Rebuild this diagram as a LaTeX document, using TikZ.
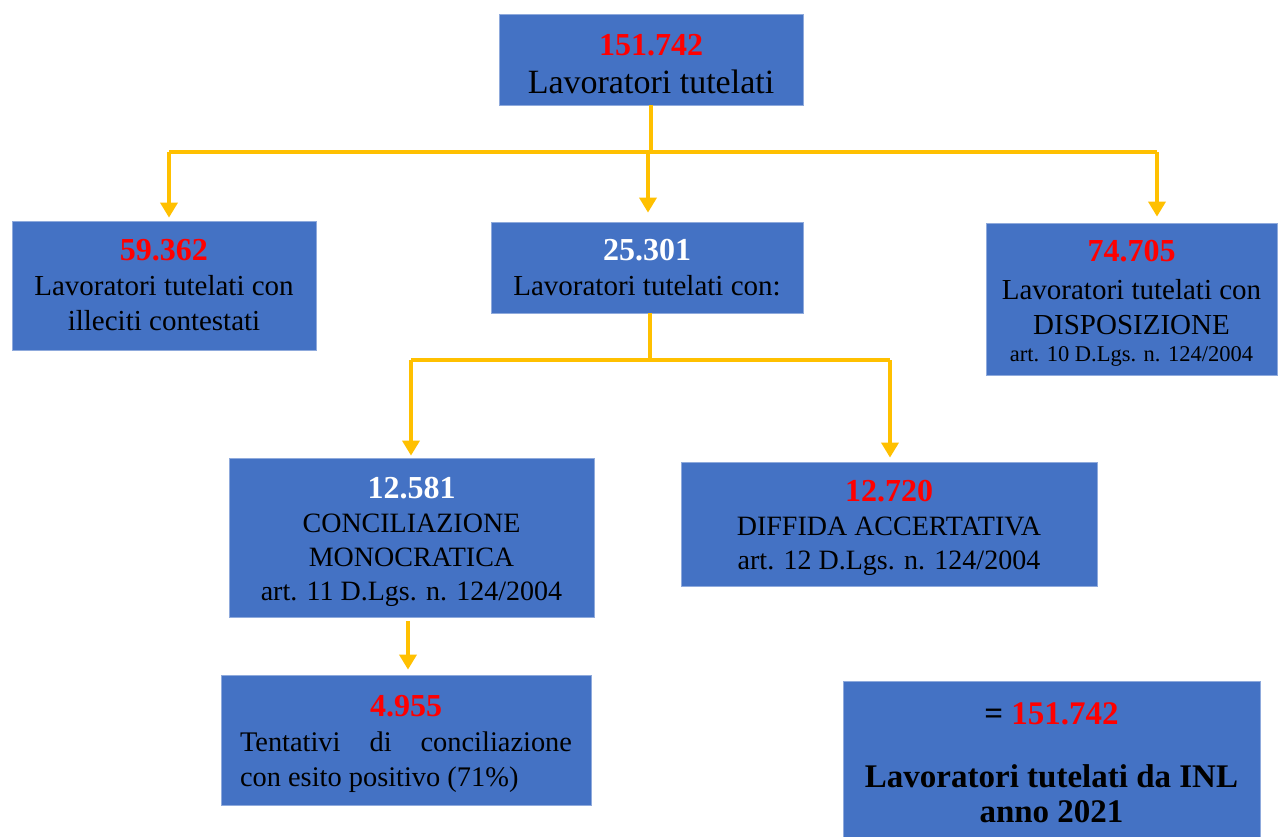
\documentclass[tikz,border=0pt]{standalone}
\usepackage{fontspec}
\setmainfont{Liberation Serif}
\usetikzlibrary{arrows.meta}
\definecolor{boxblue}{HTML}{4472C4}
\definecolor{boxedge}{HTML}{8FAADC}
\definecolor{gold}{HTML}{FFC000}
\definecolor{numred}{HTML}{FF0000}
\newcommand{\fs}[2]{\fontsize{#1}{#2}\selectfont}
\newcommand{\rnum}[1]{{\rule{0pt}{30pt}\fs{32}{36}\bfseries\color{numred}#1}}
\newcommand{\wnum}[1]{{\rule{0pt}{30pt}\fs{32}{36}\bfseries\color{white}#1}}
\newcommand{\rnumflat}[1]{{\fs{32}{36}\bfseries\color{numred}#1}}
\newcommand{\wnumflat}[1]{{\fs{32}{36}\bfseries\color{white}#1}}
\tikzset{
  box/.style={rectangle, fill=boxblue, draw=boxedge, line width=0.8pt, inner sep=0pt, align=center, text=black, font=\fs{29}{35}},
  conn/.style={draw=gold, line width=3.5pt},
  arr/.style={conn, -{Triangle[width=17pt,length=15pt]}}
}
\begin{document}
\begin{tikzpicture}[x=1pt,y=-1pt]
\useasboundingbox (0,0) rectangle (1278,836);
\fill[white] (0,0) rectangle (1278,836);

\node[box, minimum width=304pt, minimum height=91pt, font=\fs{34}{38}] (top) at (651,59.5)
  {\rnum{151.742}\\Lavoratori tutelati};
\node[box, minimum width=304pt, minimum height=129pt] (left) at (164,285.5)
  {\rnumflat{59.362}\\Lavoratori tutelati con\\illeciti contestati};
\node[box, minimum width=312pt, minimum height=91pt] (mid) at (647,267.5)
  {\wnumflat{25.301}\\Lavoratori tutelati con:};
\node[box, minimum width=291pt, minimum height=152pt] (right) at (1131.5,299)
  {\rnum{74.705}\\[3pt]Lavoratori tutelati con\\DISPOSIZIONE\\[-8pt]{\fs{22.5}{29}art. 10 D.Lgs. n. 124/2004}};
\node[box, minimum width=365pt, minimum height=159pt, font=\fs{28}{34}] (concil) at (411.5,537.5)
  {\wnum{12.581}\\CONCILIAZIONE\\MONOCRATICA\\art. 11 D.Lgs. n. 124/2004};
\node[box, minimum width=416pt, minimum height=124pt, font=\fs{28}{34}] (diffida) at (889,524)
  {\rnum{12.720}\\DIFFIDA ACCERTATIVA\\art. 12 D.Lgs. n. 124/2004};
\node[box, minimum width=370pt, minimum height=130pt, font=\fs{28.4}{35}] (tent) at (406,740)
  {\rnum{4.955}\\\makebox[332pt][s]{Tentativi di conciliazione}\\\makebox[332pt][l]{con esito positivo (71\%)}};
\node[box, minimum width=417pt, minimum height=164pt, font=\fs{33}{35}\bfseries] (inl) at (1051.5,763)
  {= {\color{numred}151.742}\\[28pt]Lavoratori tutelati da INL\\anno 2021};

% first level connectors
\coordinate (busL) at (169,152);
\coordinate (busM) at (648,152);
\coordinate (busR) at (1157,152);
\draw[conn] (top.south) -- (top.south |- busM);
\draw[conn] (busL) -- (busR);
\draw[arr, shorten >=3pt] (busL) -- (busL |- left.north);
\draw[arr, shorten >=9pt] (busM) -- (busM |- mid.north);
\draw[arr, shorten >=6pt] (busR) -- (busR |- right.north);

% second level connectors
\coordinate (bus2L) at (411,360);
\coordinate (bus2M) at (650,360);
\coordinate (bus2R) at (890,360);
\draw[conn] (mid.south -| bus2M) -- (bus2M);
\draw[conn] (bus2L) -- (bus2R);
\draw[arr, shorten >=2pt] (bus2L) -- (bus2L |- concil.north);
\draw[arr, shorten >=4pt] (bus2R) -- (bus2R |- diffida.north);

% third level
\coordinate (c3) at (408,617);
\draw[arr, shorten <=4pt, shorten >=5pt] (c3) -- (c3 |- tent.north);
\end{tikzpicture}
\end{document}
